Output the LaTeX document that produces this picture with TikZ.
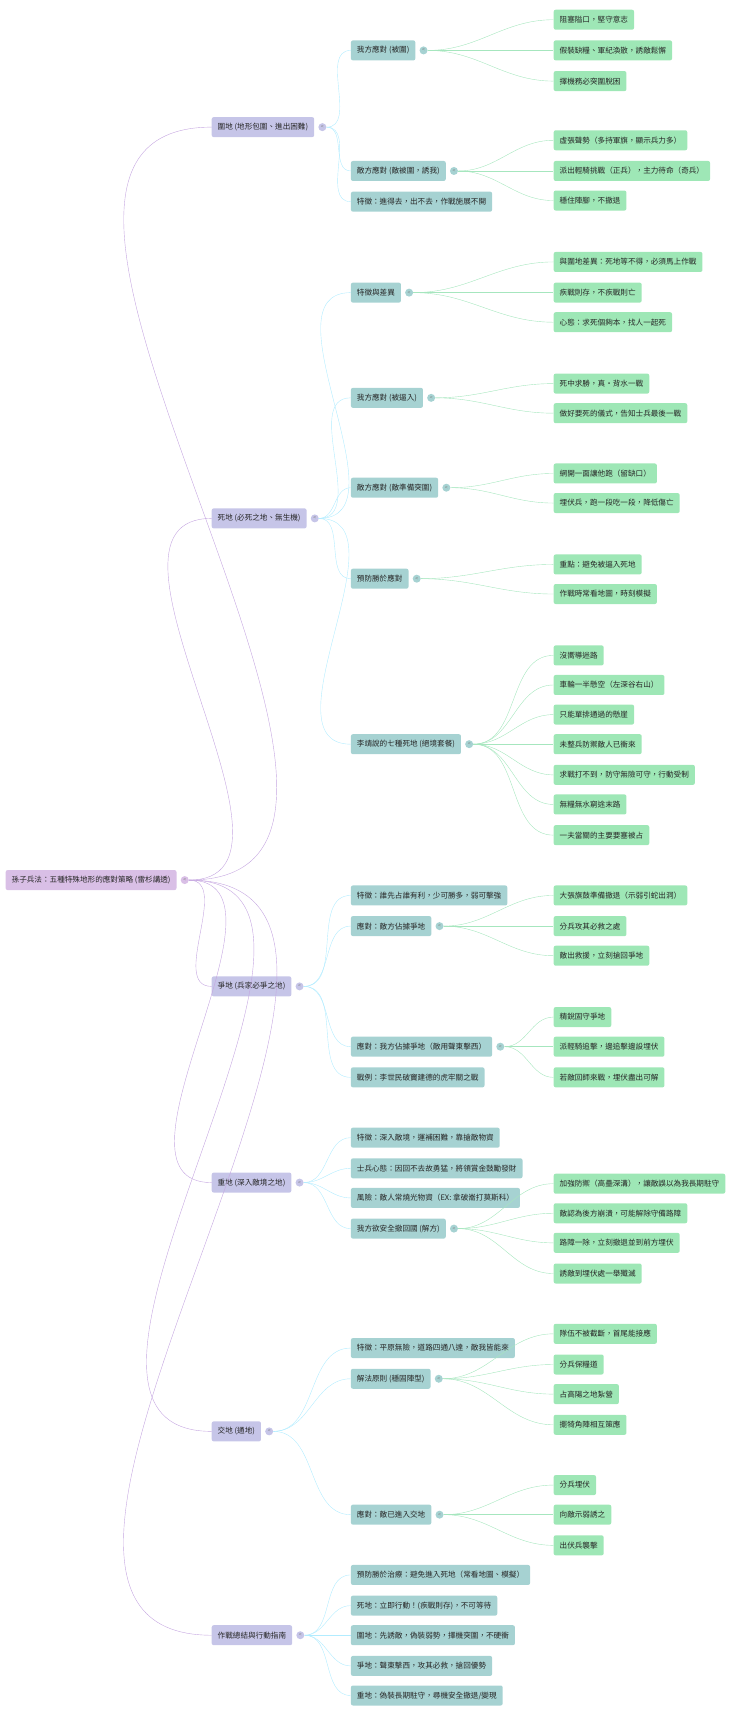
\documentclass[tikz,border=0pt]{standalone}
\usepackage{fontspec}
\setmainfont{Noto Sans CJK TC}
\begin{document}
\begin{tikzpicture}[x=1.096pt,y=-1.096pt,
  box/.style={anchor=west,rounded corners=2pt,inner xsep=6pt,minimum height=20pt,text=black!85,font=\fontsize{7.6}{9}\selectfont},
  r/.style={box,fill=blue!20!violet!25!white},
  l1/.style={box,fill=cyan!20!blue!22!white},
  l2/.style={box,fill=teal!35!white},
  l3/.style={box,fill=green!50!teal!38!white},
  dot/.style={circle,inner sep=0pt,minimum size=8pt,font=\fontsize{5}{5}\selectfont,text=black!50},
  d1/.style={dot,fill=blue!20!violet!25!white},
  d2/.style={dot,fill=cyan!20!blue!22!white},
  d3/.style={dot,fill=teal!35!white},
  e1/.style={draw=blue!30!violet!35!white,thin},
  e2/.style={draw=blue!25!cyan!30!white,thin},
  e3/.style={draw=green!45!teal!35!white,thin}]
\newcommand\nd[5]{\node[#1] (#2) at (#3,#4) {#5};}
\newcommand\dt[2]{\node[#1] (#2c) at ([xshift=8pt]#2.east) {<};}
\newcommand\ed[3]{\draw[#1] (#2c) to[out=0,in=180] (#3.west);}
\useasboundingbox (0,0) rectangle (675.2,1572.1);
% root
\nd{r}{root}{5}{803}{孫子兵法：五種特殊地形的應對策略 (雷杉講透)}\dt{d1}{root}
% level 1
\nd{l1}{A}{193}{116}{圍地 (地形包圍、進出困難)}\dt{d2}{A}
\nd{l1}{B}{193}{473}{死地 (必死之地、無生機)}\dt{d2}{B}
\nd{l1}{C}{193}{900}{爭地 (兵家必爭之地)}\dt{d2}{C}
\nd{l1}{D}{193}{1079}{重地 (深入敵境之地)}\dt{d2}{D}
\nd{l1}{E}{193}{1306}{交地 (通地)}\dt{d2}{E}
\nd{l1}{F}{193}{1492}{作戰總結與行動指南}\dt{d2}{F}
\foreach \n in {A,B,C,D,E,F}{\ed{e1}{root}{\n}}
% A
\nd{l2}{A1}{320}{46}{我方應對 (被圍)}\dt{d3}{A1}
\nd{l2}{A2}{320}{156}{敵方應對 (敵被圍，誘我)}\dt{d3}{A2}
\nd{l2}{A3}{320}{184}{特徵：進得去，出不去，作戰施展不開}
\foreach \n in {A1,A2,A3}{\ed{e2}{A}{\n}}
\nd{l3}{A11}{505}{18}{阻塞隘口，堅守意志}
\nd{l3}{A12}{505}{46}{假裝缺糧、軍紀渙散，誘敵鬆懈}
\nd{l3}{A13}{505}{74}{擇機務必突圍脫困}
\foreach \n in {A11,A12,A13}{\ed{e3}{A1}{\n}}
\nd{l3}{A21}{505}{128}{虛張聲勢（多持軍旗，顯示兵力多）}
\nd{l3}{A22}{505}{156}{派出輕騎挑戰（正兵），主力待命（奇兵）}
\nd{l3}{A23}{505}{183}{穩住陣腳，不撤退}
\foreach \n in {A21,A22,A23}{\ed{e3}{A2}{\n}}
% B
\nd{l2}{B1}{320}{267}{特徵與差異}\dt{d3}{B1}
\nd{l2}{B2}{320}{363}{我方應對 (被逼入)}\dt{d3}{B2}
\nd{l2}{B3}{320}{445}{敵方應對 (敵準備突圍)}\dt{d3}{B3}
\nd{l2}{B4}{320}{528}{預防勝於應對}\dt{d3}{B4}
\nd{l2}{B5}{320}{679}{李靖說的七種死地 (絕境套餐)}\dt{d3}{B5}
\foreach \n in {B1,B2,B3,B4,B5}{\ed{e2}{B}{\n}}
\nd{l3}{B11}{505}{239}{與圍地差異：死地等不得，必須馬上作戰}
\nd{l3}{B12}{505}{267}{疾戰則存，不疾戰則亡}
\nd{l3}{B13}{505}{294}{心態：求死個夠本，找人一起死}
\foreach \n in {B11,B12,B13}{\ed{e3}{B1}{\n}}
\nd{l3}{B21}{505}{350}{死中求勝，真·背水一戰}
\nd{l3}{B22}{505}{377}{做好要死的儀式，告知士兵最後一戰}
\foreach \n in {B21,B22}{\ed{e3}{B2}{\n}}
\nd{l3}{B31}{505}{432}{網開一面讓他跑（留缺口）}
\nd{l3}{B32}{505}{459}{埋伏兵，跑一段吃一段，降低傷亡}
\foreach \n in {B31,B32}{\ed{e3}{B3}{\n}}
\nd{l3}{B41}{505}{515}{重點：避免被逼入死地}
\nd{l3}{B42}{505}{542}{作戰時常看地圖，時刻模擬}
\foreach \n in {B41,B42}{\ed{e3}{B4}{\n}}
\nd{l3}{B51}{505}{598}{沒嚮導迷路}
\nd{l3}{B52}{505}{625}{車輪一半懸空（左深谷右山）}
\nd{l3}{B53}{505}{652}{只能單排通過的懸崖}
\nd{l3}{B54}{505}{679}{未整兵防禦敵人已衝來}
\nd{l3}{B55}{505}{707}{求戰打不到，防守無險可守，行動受制}
\nd{l3}{B56}{505}{734}{無糧無水窮途末路}
\nd{l3}{B57}{505}{762}{一夫當關的主要要塞被占}
\foreach \n in {B51,B52,B53,B54,B55,B56,B57}{\ed{e3}{B5}{\n}}
% C
\nd{l2}{C1}{320}{817}{特徵：誰先占誰有利，少可勝多，弱可擊強}
\nd{l2}{C2}{320}{845}{應對：敵方佔據爭地}\dt{d3}{C2}
\nd{l2}{C3}{320}{955}{應對：我方佔據爭地（敵用聲東擊西）}\dt{d3}{C3}
\nd{l2}{C4}{320}{983}{戰例：李世民破竇建德的虎牢關之戰}
\foreach \n in {C1,C2,C3,C4}{\ed{e2}{C}{\n}}
\nd{l3}{C21}{505}{817}{大張旗鼓準備撤退（示弱引蛇出洞）}
\nd{l3}{C22}{505}{845}{分兵攻其必救之處}
\nd{l3}{C23}{505}{872}{敵出救援，立刻搶回爭地}
\foreach \n in {C21,C22,C23}{\ed{e3}{C2}{\n}}
\nd{l3}{C31}{505}{928}{精銳固守爭地}
\nd{l3}{C32}{505}{955}{派輕騎追擊，邊追擊邊設埋伏}
\nd{l3}{C33}{505}{983}{若敵回師來戰，埋伏盡出可解}
\foreach \n in {C31,C32,C33}{\ed{e3}{C3}{\n}}
% D
\nd{l2}{D1}{320}{1038}{特徵：深入敵境，運補困難，靠搶敵物資}
\nd{l2}{D2}{320}{1066}{士兵心態：因回不去故勇猛，將領賞金鼓勵發財}
\nd{l2}{D3}{320}{1093}{風險：敵人常燒光物資（EX: 拿破崙打莫斯科）}
\nd{l2}{D4}{320}{1121}{我方欲安全撤回國 (解方)}\dt{d3}{D4}
\foreach \n in {D1,D2,D3,D4}{\ed{e2}{D}{\n}}
\nd{l3}{D41}{505}{1080}{加強防禦（高壘深溝），讓敵誤以為我長期駐守}
\nd{l3}{D42}{505}{1107}{敵認為後方崩潰，可能解除守備路障}
\nd{l3}{D43}{505}{1134}{路障一除，立刻撤退並到前方埋伏}
\nd{l3}{D44}{505}{1162}{誘敵到埋伏處一舉殲滅}
\foreach \n in {D41,D42,D43,D44}{\ed{e3}{D4}{\n}}
% E
\nd{l2}{E1}{320}{1230}{特徵：平原無險，道路四通八達，敵我皆能來}
\nd{l2}{E2}{320}{1258}{解法原則 (穩固陣型)}\dt{d3}{E2}
\nd{l2}{E3}{320}{1382}{應對：敵已進入交地}\dt{d3}{E3}
\foreach \n in {E1,E2,E3}{\ed{e2}{E}{\n}}
\nd{l3}{E21}{505}{1217}{隊伍不被截斷，首尾能接應}
\nd{l3}{E22}{505}{1245}{分兵保糧道}
\nd{l3}{E23}{505}{1272}{占高陽之地紮營}
\nd{l3}{E24}{505}{1300}{擺犄角陣相互策應}
\foreach \n in {E21,E22,E23,E24}{\ed{e3}{E2}{\n}}
\nd{l3}{E31}{505}{1355}{分兵埋伏}
\nd{l3}{E32}{505}{1382}{向敵示弱誘之}
\nd{l3}{E33}{505}{1410}{出伏兵襲擊}
\foreach \n in {E31,E32,E33}{\ed{e3}{E3}{\n}}
% F
\nd{l2}{F1}{320}{1437}{預防勝於治療：避免進入死地（常看地圖、模擬）}
\nd{l2}{F2}{320}{1465}{死地：立即行動！(疾戰則存)，不可等待}
\nd{l2}{F3}{320}{1492}{圍地：先誘敵，偽裝弱勢，擇機突圍，不硬衝}
\nd{l2}{F4}{320}{1520}{爭地：聲東擊西，攻其必救，搶回優勢}
\nd{l2}{F5}{320}{1547}{重地：偽裝長期駐守，尋機安全撤退/變現}
\foreach \n in {F1,F2,F3,F4,F5}{\ed{e2}{F}{\n}}
\end{tikzpicture}
\end{document}
